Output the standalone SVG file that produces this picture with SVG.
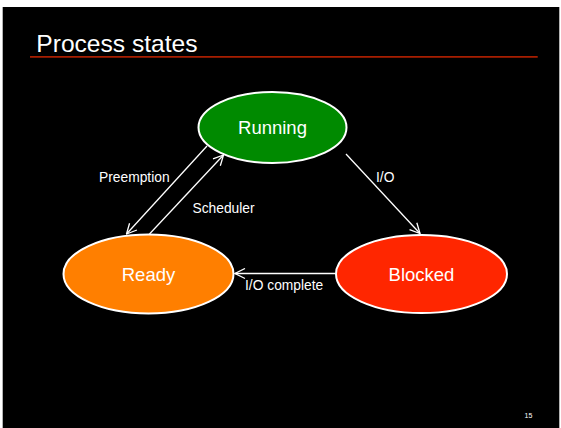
<svg xmlns="http://www.w3.org/2000/svg" width="561" height="428" viewBox="0 0 561 428">
  <style>
    .lbl { font-family: "Liberation Sans", Arial, sans-serif; fill: #ffffff; }
    .node-text { font-size: 18.5px; text-anchor: middle; }
    .edge-text { font-size: 13.8px; }
    .state { stroke: #ffffff; stroke-width: 2; }
    .edge { stroke: #ffffff; stroke-width: 1.3; fill: none; marker-end: url(#arrow); }
  </style>
  <defs>
    <marker id="arrow" viewBox="0 0 12 12" refX="11" refY="6" markerWidth="12" markerHeight="12" markerUnits="userSpaceOnUse" orient="auto">
      <path d="M1,1 L11,6 L1,11" fill="none" stroke="#ffffff" stroke-width="1.3"/>
    </marker>
  </defs>

  <!-- page and slide background -->
  <rect x="0" y="0" width="561" height="428" fill="#ffffff"/>
  <rect x="2.7" y="7" width="556.6" height="421" fill="#000000"/>

  <!-- title -->
  <text class="lbl" x="36.3" y="51.7" font-size="24.6">Process states</text>
  <line x1="30" y1="56.8" x2="537.7" y2="56.8" stroke="#a81e00" stroke-width="1.8"/>

  <!-- connectors -->
  <g id="connectors">
    <line class="edge" x1="207" y1="146" x2="126.5" y2="234"/>
    <line class="edge" x1="149.5" y1="234" x2="223.5" y2="155"/>
    <line class="edge" x1="346" y1="154" x2="420" y2="233.5"/>
    <line class="edge" x1="335.5" y1="273.5" x2="235" y2="273.5"/>
    <text class="lbl edge-text" x="99" y="181.5">Preemption</text>
    <text class="lbl edge-text" x="192.5" y="212.5">Scheduler</text>
    <text class="lbl edge-text" x="376" y="181.5">I/O</text>
    <text class="lbl edge-text" x="245" y="290">I/O complete</text>
  </g>

  <!-- states -->
  <g id="running">
    <ellipse class="state" cx="272.5" cy="127.5" rx="74" ry="35.5" fill="#008a00"/>
    <text class="lbl node-text" x="272.5" y="134">Running</text>
  </g>
  <g id="ready">
    <ellipse class="state" cx="148.5" cy="274" rx="85" ry="39.5" fill="#ff7f00"/>
    <text class="lbl node-text" x="148.5" y="280.5">Ready</text>
  </g>
  <g id="blocked">
    <ellipse class="state" cx="421.5" cy="274" rx="85.5" ry="39" fill="#ff2600"/>
    <text class="lbl node-text" x="421.5" y="280.5">Blocked</text>
  </g>

  <!-- page number -->
  <text class="lbl" x="528.5" y="417.5" font-size="7" text-anchor="middle" fill="#dddddd">15</text>
</svg>
